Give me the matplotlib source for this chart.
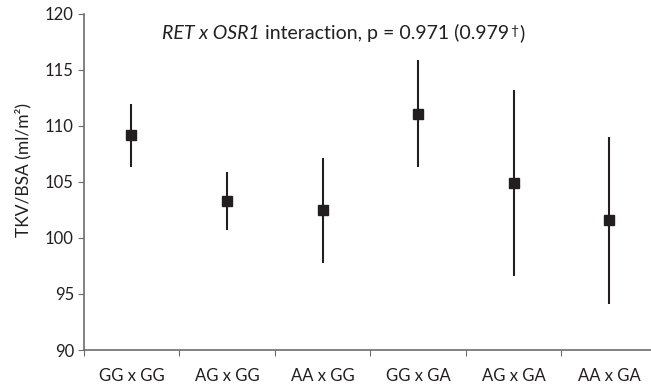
import matplotlib
matplotlib.use("Agg")
from matplotlib import pyplot as plt

# genotype combinations and TKV/BSA means with interval limits
groups = ['GG x GG', 'AG x GG', 'AA x GG', 'GG x GA', 'AG x GA', 'AA x GA']
means = [109.2, 103.3, 102.5, 111.1, 104.9, 101.6]
upper = [112.0, 105.9, 107.1, 115.9, 113.2, 109.0]
lower = [106.3, 100.7, 97.8, 106.3, 96.6, 94.1]

plt.rcParams['font.family'] = ['Lato', 'DejaVu Sans']
ink = '#231f20'
axis_col = '#6d6d6d'

fig = plt.figure(figsize=(6.51, 3.87), dpi=100)
ax = fig.add_axes([83.6 / 651, 1 - 350 / 387, (657 - 83.6) / 651, 336 / 387])

x = list(range(len(groups)))
err = [[m - lo for m, lo in zip(means, lower)], [up - m for m, up in zip(means, upper)]]
ax.errorbar(x, means, yerr=err, fmt='s', color=ink, ms=7.6, elinewidth=1.5,
            capsize=0, zorder=3)

ax.set_xlim(-0.5, 5.5)
ax.set_ylim(90, 120)
ax.set_yticks(range(90, 121, 5))
ax.set_xticks([i - 0.5 for i in range(len(groups) + 1)])
ax.set_xticklabels([])
ax.set_xticks(x, minor=True)
ax.set_xticklabels(groups, minor=True)
ax.tick_params(axis='x', which='minor', length=0, pad=13, labelsize=12, labelcolor=ink)
ax.tick_params(axis='x', which='major', direction='out', length=4, color=axis_col)
ax.tick_params(axis='y', direction='out', length=4, color=axis_col, labelsize=12,
               labelcolor=ink, pad=3)

for s in ['top', 'right']:
    ax.spines[s].set_visible(False)
for s in ['left', 'bottom']:
    ax.spines[s].set_color(axis_col)
    ax.spines[s].set_linewidth(1.2)

ax.set_ylabel('TKV/BSA (ml/m²)', fontsize=12.5, color=ink)
ax.yaxis.set_label_coords((31 - 83.6) / 573.4, (350 - 170) / 336)

# title with italic gene names
t1 = fig.text(162 / 651, 1 - 39 / 387, 'RET x OSR1', fontsize=14, style='italic',
              color=ink, va='baseline')
t2 = ax.annotate(' interaction, p = 0.971 (0.979', xy=(1, 0), xycoords=t1,
                 va='bottom', fontsize=14, color=ink)
t3 = ax.annotate('†', xy=(1, 0.3), xycoords=t2, xytext=(1, 0), textcoords='offset pixels',
                 va='bottom', fontsize=10, color=ink)
ax.annotate(')', xy=(1, 0), xycoords=t2, xytext=(10, 0), textcoords='offset pixels',
            va='bottom', fontsize=14, color=ink)

fig.savefig('out.png', dpi=100)
